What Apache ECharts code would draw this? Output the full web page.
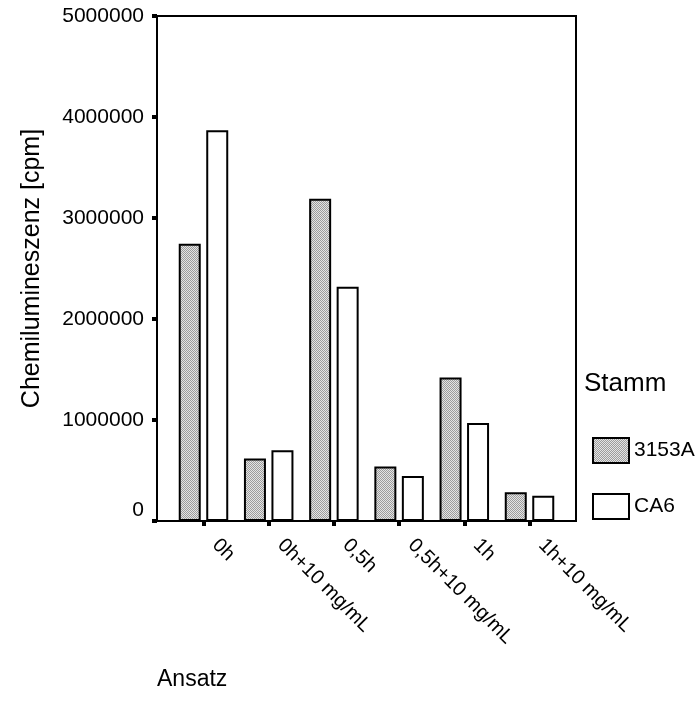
<!DOCTYPE html>
<html>
<head>
<meta charset="utf-8">
<script src="https://cdn.jsdelivr.net/npm/echarts@6/dist/echarts.min.js"></script>
<style>
  html, body { margin: 0; padding: 0; background: #fff; }
  #chart { width: 700px; height: 715px; }
</style>
</head>
<body>
<div id="chart"></div>
<script>
// Test conditions (x axis) and strains (legend)
var categories = ['0h', '0h+10 mg/mL', '0,5h', '0,5h+10 mg/mL', '1h', '1h+10 mg/mL'];
var strains = ['3153A', 'CA6'];

// Chemiluminescence per condition [cpm]
var values3153A = [2745000, 620000, 3190000, 540000, 1420000, 285000];
var valuesCA6   = [3870000, 700000, 2320000, 445000, 970000, 250000];

// Y axis scale
var yTicks = [0, 1000000, 2000000, 3000000, 4000000, 5000000];

var FONT = 'Liberation Sans, Arial, sans-serif';

// Dotted grey fill used for the 3153A bars
function dotPattern() {
  var c = document.createElement('canvas');
  c.width = 2; c.height = 2;
  var g = c.getContext('2d');
  g.fillStyle = '#e4e4e4';
  g.fillRect(0, 0, 2, 2);
  g.fillStyle = '#9c9c9c';
  g.fillRect(0, 0, 1, 1);
  g.fillRect(1, 1, 1, 1);
  return c;
}

var catIndex = categories.map(function (_, i) { return i; });

function pairs(vals) {
  return vals.map(function (v, i) { return [i, v]; });
}

var chart = echarts.init(document.getElementById('chart'), null, { renderer: 'canvas' });

chart.setOption({
  animation: false,
  backgroundColor: '#ffffff',
  textStyle: { fontFamily: FONT, color: '#000' },
  grid: {
    left: 157, top: 16, width: 419, height: 505,
    show: true, borderColor: '#000', borderWidth: 2, backgroundColor: 'transparent'
  },
  xAxis: {
    type: 'value',
    min: -0.713, max: 5.713,
    splitLine: { show: false },
    axisLine: { show: true, onZero: false, lineStyle: { color: '#000', width: 2 } },
    axisTick: {
      show: true, customValues: catIndex, length: 5,
      lineStyle: { color: '#000', width: 4 }
    },
    axisLabel: {
      customValues: catIndex,
      rotate: -45,
      margin: 9,
      padding: [0, 0, 0, 17],
      fontSize: 20,
      fontFamily: FONT,
      color: '#000',
      formatter: function (v) { return categories[Math.round(v)]; }
    }
  },
  yAxis: {
    type: 'value',
    min: 0, max: 5000000, interval: 1000000,
    name: 'Chemilumineszenz [cpm]',
    nameLocation: 'middle',
    nameGap: 112,
    nameTextStyle: { fontSize: 25, fontFamily: FONT, color: '#000' },
    splitLine: { show: false },
    axisLine: { show: true, onZero: false, lineStyle: { color: '#000', width: 2 } },
    axisTick: { show: true, length: 5, lineStyle: { color: '#000', width: 4 } },
    axisLabel: {
      margin: 13,
      padding: [4, 0, 0, 0],
      fontSize: 21,
      fontFamily: FONT,
      color: '#000',
      verticalAlignMinLabel: 'bottom',
      customValues: yTicks,
      formatter: function (v) { return String(v); }
    }
  },
  legend: {
    orient: 'vertical',
    left: 592, top: 437,
    padding: 0,
    itemWidth: 36, itemHeight: 25,
    itemGap: 29,
    icon: 'rect',
    data: strains,
    textStyle: { fontSize: 21, fontFamily: FONT, color: '#000' }
  },
  graphic: [
    {
      type: 'text', left: 584, top: 371,
      style: { text: 'Stamm', font: '26px ' + FONT, fill: '#000' }
    },
    {
      type: 'text', left: 157, top: 668,
      style: { text: 'Ansatz', font: '23px ' + FONT, fill: '#000' }
    }
  ],
  series: [
    {
      name: strains[0],
      type: 'bar',
      data: pairs(values3153A),
      barWidth: 22,
      barGap: '25%',
      itemStyle: {
        color: { image: dotPattern(), repeat: 'repeat' },
        borderColor: '#000', borderWidth: 2
      }
    },
    {
      name: strains[1],
      type: 'bar',
      data: pairs(valuesCA6),
      barWidth: 22,
      barGap: '25%',
      itemStyle: { color: '#ffffff', borderColor: '#000', borderWidth: 2 }
    }
  ]
});
</script>
</body>
</html>
